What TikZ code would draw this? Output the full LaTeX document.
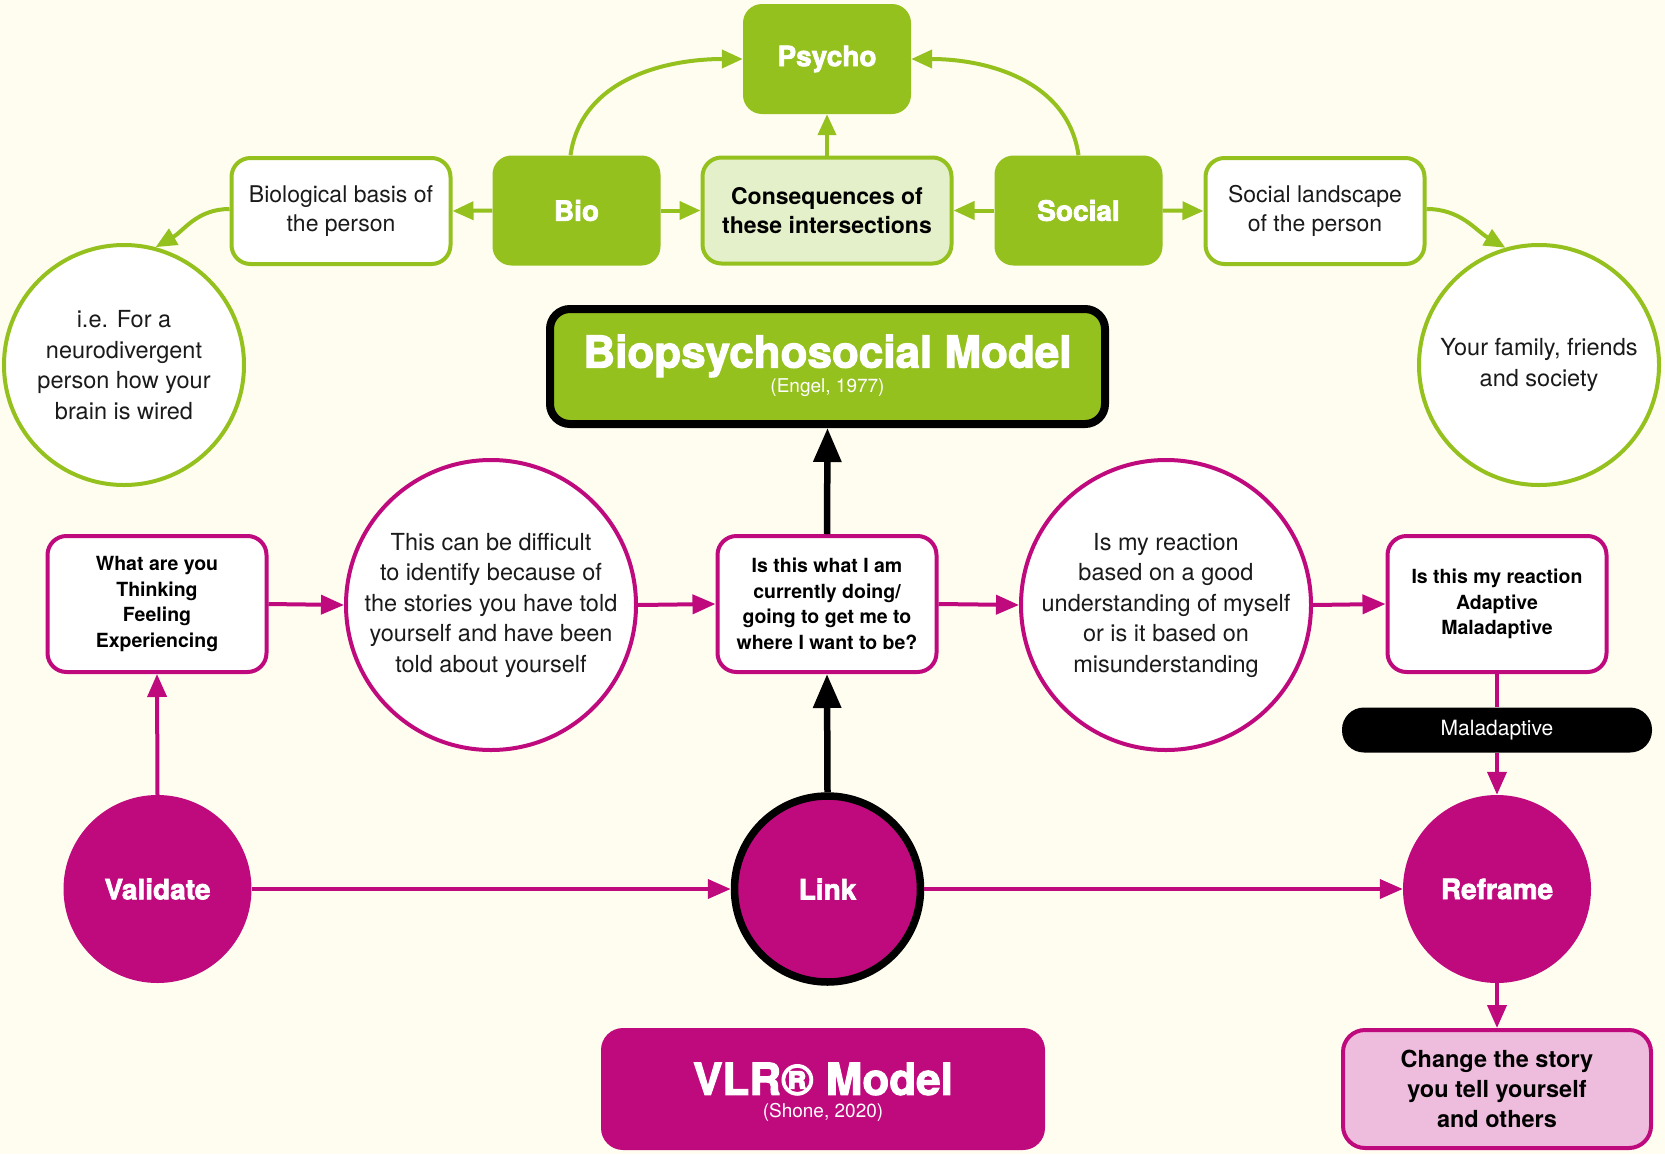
\documentclass[tikz,border=0pt]{standalone}
\usepackage{fontspec}
\setmainfont{TeX Gyre Heros}
\newfontfamily\heavyfont{TeX Gyre Heros}[UprightFeatures={FakeBold=2.5},BoldFeatures={FakeBold=2.5}]
\usetikzlibrary{arrows.meta}
\definecolor{bpsgreen}{HTML}{95C11F}
\definecolor{vlrmag}{HTML}{BF0A7E}
\definecolor{bgcream}{HTML}{FFFDF0}
\definecolor{lightgreen}{HTML}{E3F0CA}
\definecolor{lightpink}{HTML}{EEBCDC}
\definecolor{inktext}{HTML}{1A1A1A}
\tikzset{
  greenfill/.style={rectangle, rounded corners=19pt, fill=bpsgreen, draw=none, text=white,
    font=\heavyfont\bfseries\fontsize{28}{30}\selectfont, minimum width=168pt, minimum height=110pt, inner sep=0pt},
  greenbox/.style={rectangle, rounded corners=19pt, fill=white, draw=bpsgreen, line width=4pt, text=inktext,
    font=\fontsize{23}{29.5}\selectfont, align=center, minimum width=219pt, minimum height=106pt, inner sep=0pt},
  consbox/.style={greenbox, fill=lightgreen, font=\bfseries\fontsize{23}{29.5}\selectfont, minimum width=249pt, text=black},
  greencirc/.style={circle, fill=white, draw=bpsgreen, line width=4pt, minimum size=240pt, inner sep=0pt,
    align=center, text=inktext, font=\fontsize{23.5}{30.5}\selectfont},
  magbox/.style={rectangle, rounded corners=19pt, fill=white, draw=vlrmag, line width=4pt, text=black,
    minimum width=219pt, minimum height=136pt, inner sep=0pt, align=center, font=\bfseries\fontsize{19.5}{25.5}\selectfont},
  magcirc/.style={circle, fill=white, draw=vlrmag, line width=4pt, minimum size=290pt, inner sep=0pt,
    align=center, text=inktext, font=\fontsize{23.5}{30.5}\selectfont},
  vlrdot/.style={circle, fill=vlrmag, draw=none, minimum size=188pt, inner sep=0pt, text=white,
    font=\heavyfont\bfseries\fontsize{28}{30}\selectfont},
  garrow/.style={draw=bpsgreen, line width=4pt, -{Triangle[length=21pt,width=18pt]}},
  mline/.style={draw=vlrmag, line width=4pt},
  marrow/.style={mline, -{Triangle[length=23pt,width=19pt]}},
  karrow/.style={draw=black, line width=6.5pt, -{Triangle[length=34pt,width=27pt]}}
}
\begin{document}
\begin{tikzpicture}[x=1pt,y=1pt]
\fill[bgcream] (0,0) rectangle (1665,-1154);
\useasboundingbox (0,0) rectangle (1665,-1154);

% --- Biopsychosocial part ---
\node[greenfill] (psycho) at (827,-59) {Psycho};
\node[greenfill] (bio) at (576.5,-210.5) {Bio};
\node[greenfill] (social) at (1078.5,-210.5) {Social};
\node[consbox] (cons) at (827,-210.5) {Consequences of\\these intersections};
\node[greenbox] (biol) at (341,-211) {Biological basis of\\the person};
\node[greenbox] (socl) at (1315,-211) {Social landscape\\of the person};
\node[greencirc] (lcirc) at (124,-365) {i.e. For a\\neurodivergent\\person how your\\brain is wired};
\node[greencirc] (rcirc) at (1539,-365) {Your family, friends\\and society};

\node[rectangle, rounded corners=20pt, fill=bpsgreen, draw=black, line width=8pt,
  minimum width=555pt, minimum height=115pt] (bps) at (827.5,-366.5) {};
\node[text=white, font=\heavyfont\bfseries\fontsize{44}{46}\selectfont, inner sep=0pt] (bpstitle) at (827.5,-356) {Biopsychosocial Model};
\node[text=white, font=\fontsize{19}{20}\selectfont, inner sep=0pt] (bpssub) at (827.5,-388) {(Engel, 1977)};

\draw[garrow] ([xshift=-6pt]bio.north) to[out=82,in=180] (psycho.west);
\draw[garrow] (social.north) to[out=98,in=0] (psycho.east);
\draw[garrow] (cons.north) -- (psycho.south);
\draw[garrow] (bio.west) -- (biol.east);
\draw[garrow] (bio.east) -- (cons.west);
\draw[garrow] (social.west) -- (cons.east);
\draw[garrow] (social.east) -- (socl.west);
\draw[garrow] ([yshift=2pt]biol.west) to[out=180,in=30] (lcirc.75);
\draw[garrow] ([yshift=2pt]socl.east) to[out=0,in=150] (rcirc.106);

% --- VLR part ---
\node[magbox] (what) at (157,-604) {What are you\\Thinking\\Feeling\\Experiencing};
\node[magcirc] (c2) at (491,-605) {This can be difficult\\to identify because of\\the stories you have told\\yourself and have been\\told about yourself};
\node[magbox] (isthis) at (827,-604) {Is this what I am\\currently doing/\\going to get me to\\where I want to be?};
\node[magcirc] (c3) at (1166,-605) {Is my reaction\\based on a good\\understanding of myself\\or is it based on\\misunderstanding};
\node[magbox] (isrx) at (1497,-604) {Is this my reaction\\Adaptive\\Maladaptive};
\node[rectangle, rounded corners=22pt, fill=black, draw=none, text=white, minimum width=310pt, minimum height=45pt,
  inner sep=0pt, font=\fontsize{21}{22}\selectfont] (mal) at (1497,-730) {Maladaptive};

\node[vlrdot] (validate) at (157.5,-889) {Validate};
\node[vlrdot, draw=black, line width=7.5pt, minimum size=186pt] (link) at (827.5,-889) {Link};
\node[vlrdot] (reframe) at (1497,-889) {Reframe};

\node[rectangle, rounded corners=22pt, fill=vlrmag, draw=none, minimum width=444pt, minimum height=122pt] (vlr) at (823,-1089) {};
\node[text=white, font=\heavyfont\bfseries\fontsize{44}{46}\selectfont, inner sep=0pt] (vlrtitle) at (823,-1079) {VLR® Model};
\node[text=white, font=\fontsize{19}{20}\selectfont, inner sep=0pt] (vlrsub) at (823,-1112) {(Shone, 2020)};

\node[rectangle, rounded corners=22pt, fill=lightpink, draw=vlrmag, line width=4pt, minimum width=308pt, minimum height=118pt,
  inner sep=0pt, align=center, text=black, font=\bfseries\fontsize{23.5}{30}\selectfont] (change) at (1497,-1089) {Change the story\\you tell yourself\\and others};

\draw[marrow] (what.east) -- (c2.west);
\draw[marrow] (c2.east) -- (isthis.west);
\draw[marrow] (isthis.east) -- (c3.west);
\draw[marrow] (c3.east) -- (isrx.west);
\draw[marrow] (validate.north) -- (what.south);
\draw[marrow] (validate.east) -- (link.west);
\draw[marrow] (link.east) -- (reframe.west);
\draw[mline] (isrx.south) -- (mal.north);
\draw[marrow] (mal.south) -- (reframe.north);
\draw[marrow] (reframe.south) -- (change.north);
\draw[karrow] (link.north) -- (isthis.south);
\draw[karrow] (isthis.north) -- (bps.south);
\end{tikzpicture}
\end{document}
